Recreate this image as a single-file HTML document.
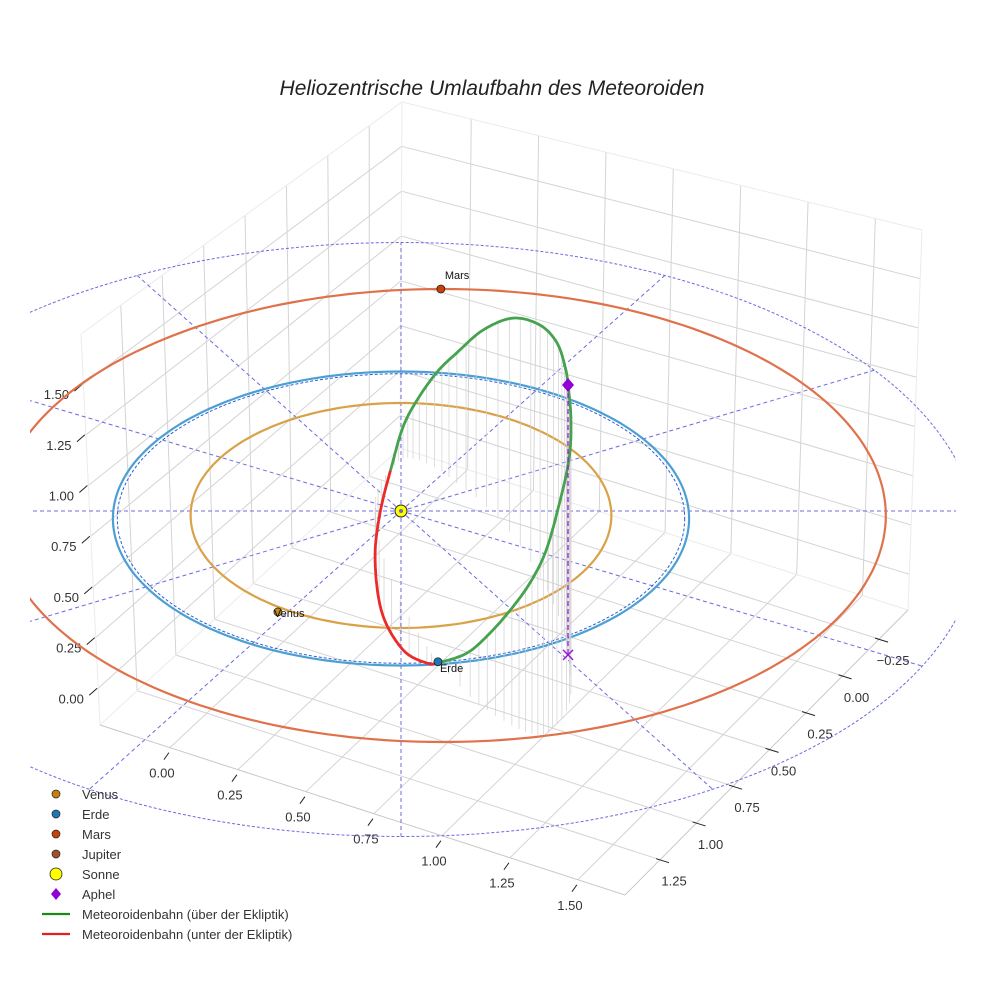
<!DOCTYPE html>
<html><head><meta charset="utf-8"><style>
html,body{margin:0;padding:0;background:#fff;}
svg{display:block;font-family:"Liberation Sans",sans-serif;}
</style></head><body>
<svg id="chart" width="984" height="984" viewBox="0 0 984 984">
<defs><clipPath id="plotclip"><rect x="30" y="0" width="926" height="984"/></clipPath></defs>
<rect width="984" height="984" fill="#fff"/>
<text x="492" y="95" text-anchor="middle" font-size="21" font-style="italic" fill="#222">Heliozentrische Umlaufbahn des Meteoroiden</text>
<g id="box"></g>
<g clip-path="url(#plotclip)"><g id="ecl"></g><g id="orb"></g><g id="met"></g></g>
<g id="mk"></g>
<g id="legend"></g>
</svg>
<script>
// ---- axis data ----
const xTicks=[0,0.25,0.5,0.75,1.0,1.25,1.5];
const xTickLabels=['0.00','0.25','0.50','0.75','1.00','1.25','1.50'];
const yTicks=[-0.25,0,0.25,0.5,0.75,1.0,1.25];
const yTickLabels=['\u22120.25','0.00','0.25','0.50','0.75','1.00','1.25'];
const zTicks=[0,0.25,0.5,0.75,1.0,1.25,1.5];
const zTickLabels=['0.00','0.25','0.50','0.75','1.00','1.25','1.50'];
const xLim=[-0.257,1.673], yLim=[-0.448,1.49], zLim=[-0.181,1.747];
// ---- planet orbit data ----
const orbitNames=['venus-orbit','earth-orbit','mars-orbit'];
const orbitCx=[0,0,0.142];
const orbitCy=[0.03,0.05,0.03];
const orbitA=[0.723,0.99,1.524];
const orbitB=[0.75,0.98,1.51];
const orbitColors=['#d9a148','#4b9fd4','#e0714a'];
// ---- planet positions ----
const planetNames=['Venus','Erde','Mars'];
const planetX=[-0.423,0.127,0.137];
const planetY=[0.673,1.005,-1.48];
const planetColors=['#c98a1c','#1f77b4','#c8400a'];
// ---- meteoroid orbit points (x,y,z) ----
const metX=[0.131,0.227,0.306,0.381,0.443,0.495,0.536,0.577,0.584,0.574,0.564,0.536,0.478,0.385,0.282,0.192,0.124,0.055,0.007,-0.031,-0.072,-0.089,-0.065,0.007,0.089];
const metY=[1.010,1.219,1.339,1.429,1.482,1.487,1.420,1.297,1.139,0.959,0.853,0.675,0.443,0.168,-0.051,-0.186,-0.283,-0.341,-0.350,-0.283,-0.181,-0.021,0.275,0.627,0.901];
const metZ=[0.0,0.215,0.415,0.617,0.791,0.952,1.111,1.292,1.379,1.420,1.432,1.418,1.328,1.148,0.912,0.686,0.508,0.314,0.166,0.019,-0.153,-0.273,-0.320,-0.236,-0.089];
const aphel=[0.574,0.959,1.42];
// ---- ecliptic reference grid ----
const ringCenter=[0,0.19];
const ringRadius=1.98;
const radialAngles=[0,30,60,90,120,150,180,210,240,270,300,330];

const NS='http://www.w3.org/2000/svg';
function mk(tag,attrs,parent){const e=document.createElementNS(NS,tag);for(const k in attrs)e.setAttribute(k,attrs[k]);parent.appendChild(e);return e;}
function proj(x,y,z){return [401+291*x,511+150*y-190*z];}
const C={'000':[400,448],'010':[100,725],'110':[625,895],'100':[908,610],'001':[402,102],'011':[81,334],'101':[922,230],'111':[605,468]};
function lerp(a,b,t){return [a[0]+(b[0]-a[0])*t,a[1]+(b[1]-a[1])*t];}
function boxP(x,y,z){
 const u=(x-xLim[0])/(xLim[1]-xLim[0]),v=(y-yLim[0])/(yLim[1]-yLim[0]),w=(z-zLim[0])/(zLim[1]-zLim[0]);
 const b=lerp(lerp(C['000'],C['100'],u),lerp(C['010'],C['110'],u),v);
 const t=lerp(lerp(C['001'],C['101'],u),lerp(C['011'],C['111'],u),v);
 return lerp(b,t,w);
}
const box=document.getElementById('box');
function bl(p,q,col,w,name){const l=mk('line',{x1:p[0],y1:p[1],x2:q[0],y2:q[1],stroke:col,'stroke-width':w},box);
 
 }
const gc='#d4d4d4';
xTicks.forEach(x=>bl(boxP(x,yLim[0],zLim[0]),boxP(x,yLim[1],zLim[0]),gc,1,'floor-grid-x'));
yTicks.forEach(y=>bl(boxP(xLim[0],y,zLim[0]),boxP(xLim[1],y,zLim[0]),gc,1,'floor-grid-y'));
yTicks.forEach(y=>bl(boxP(xLim[0],y,zLim[0]),boxP(xLim[0],y,zLim[1]),gc,1,'left-wall-grid-y'));
zTicks.forEach(z=>bl(boxP(xLim[0],yLim[0],z),boxP(xLim[0],yLim[1],z),gc,1,'left-wall-grid-z'));
xTicks.forEach(x=>bl(boxP(x,yLim[0],zLim[0]),boxP(x,yLim[0],zLim[1]),gc,1,'right-wall-grid-x'));
zTicks.forEach(z=>bl(boxP(xLim[0],yLim[0],z),boxP(xLim[1],yLim[0],z),gc,1,'right-wall-grid-z'));
const ec='#ebebeb';
[[[0,0,0],[0,0,1]],[[0,1,0],[0,1,1]],[[1,0,0],[1,0,1]],[[0,0,1],[0,1,1]],[[0,0,1],[1,0,1]],[[0,0,0],[0,1,0]],[[0,0,0],[1,0,0]]].forEach(e=>{
 const f=a=>boxP(xLim[a[0]],yLim[a[1]],zLim[a[2]]);bl(f(e[0]),f(e[1]),ec,1,'box-edge');});
bl(boxP(xLim[0],yLim[1],zLim[0]),boxP(xLim[1],yLim[1],zLim[0]),'#c8c8c8',1,'x-axis-line');
bl(boxP(xLim[1],yLim[0],zLim[0]),boxP(xLim[1],yLim[1],zLim[0]),'#c8c8c8',1,'y-axis-line');
function tl(p,dx1,dy1,dx2,dy2,name){const l=mk('line',{x1:p[0]+dx1,y1:p[1]+dy1,x2:p[0]+dx2,y2:p[1]+dy2,stroke:'#222','stroke-width':1},box);
 
 }
function tt(p,s,name){const t=mk('text',{x:p[0],y:p[1],'text-anchor':'middle','font-size':13,fill:'#333'},box);t.textContent=s;
 
 }
xTicks.forEach((x,i)=>{const p=boxP(x,yLim[1],zLim[0]);tl(p,-1,5,-6,12,'x-tick');tt([p[0]-8,p[1]+30],xTickLabels[i],'x-tick-label');});
yTicks.forEach((y,i)=>{const p=boxP(xLim[1],y,zLim[0]);tl(p,-4,-1,9,3,'y-tick');tt([p[0]+14,p[1]+26],yTickLabels[i],'y-tick-label');});
zTicks.forEach((z,i)=>{const p=boxP(xLim[0],yLim[1],z);tl(p,-9,7,-1,0,'z-tick');tt([p[0]-27,p[1]+15],zTickLabels[i],'z-tick-label');});

const ecl=document.getElementById('ecl');
function pathFrom(pts){return pts.map((p,i)=>(i?'L':'M')+p[0].toFixed(1)+' '+p[1].toFixed(1)).join(' ');}
function ellipsePts(cx,cy,a,b){const r=[];for(let k=0;k<=240;k++){const t=k/240*2*Math.PI;r.push(proj(cx+a*Math.cos(t),cy+b*Math.sin(t),0));}return r;}
const ring=mk('path',{d:pathFrom(ellipsePts(ringCenter[0],ringCenter[1],ringRadius,ringRadius)),fill:'none',stroke:'#6b6be0','stroke-width':1,'stroke-dasharray':'3,2'},ecl);


radialAngles.forEach(a=>{const t=a*Math.PI/180;const s=proj(0,0,0);
 const c=Math.cos(t),sn=Math.sin(t);
 const ox=-ringCenter[0],oy=-ringCenter[1];const bq=ox*c+oy*sn,cq=ox*ox+oy*oy-ringRadius*ringRadius;
 const L=-bq+Math.sqrt(bq*bq-cq);
 const e=proj(L*c,L*sn,0);
 const l=mk('line',{x1:s[0],y1:s[1],x2:e[0],y2:e[1],stroke:'#6b6be0','stroke-width':1,'stroke-dasharray':'4,3'},ecl);
 
 });

const orb=document.getElementById('orb');
orbitNames.forEach((n,i)=>{const p=mk('path',{d:pathFrom(ellipsePts(orbitCx[i],orbitCy[i],orbitA[i],orbitB[i])),fill:'none',stroke:orbitColors[i],'stroke-width':2.2},orb);
 
 });
const ed=mk('path',{d:pathFrom(ellipsePts(orbitCx[1],orbitCy[1],orbitA[1]-0.015,orbitB[1]-0.015)),fill:'none',stroke:'#2a5fd0','stroke-width':1,'stroke-dasharray':'3,2'},orb);



const met=document.getElementById('met');
const n=metX.length, samples=[];
for(let i=0;i<n;i++){const i0=(i-1+n)%n,i2=(i+1)%n,i3=(i+2)%n;
 for(let s=0;s<16;s++){const t=s/16,t2=t*t,t3=t2*t;
  const cr=(a)=>0.5*((2*a[i])+(-a[i0]+a[i2])*t+(2*a[i0]-5*a[i]+4*a[i2]-a[i3])*t2+(-a[i0]+3*a[i]-3*a[i2]+a[i3])*t3);
  samples.push([cr(metX),cr(metY),cr(metZ)]);}}
samples.push(samples[0]);
samples.forEach((q,k)=>{if(k%6!==0||Math.abs(q[2])<0.04)return;const a=proj(q[0],q[1],q[2]),b=proj(q[0],q[1],0);
 const l=mk('line',{x1:a[0],y1:a[1],x2:b[0],y2:b[1],stroke:'#d0d0d0','stroke-width':0.7},met);
 
 });
let seg=[],segAbove=null;
function flush(){if(seg.length>1){const p=mk('path',{d:pathFrom(seg),fill:'none',stroke:segAbove?'#45a24e':'#ec2a2a','stroke-width':2.8,'stroke-linejoin':'round'},met);
 
 }}
samples.forEach(q=>{const above=q[2]>=0;const p=proj(q[0],q[1],q[2]);
 if(segAbove===null)segAbove=above;
 if(above!==segAbove){seg.push(p);flush();seg=[p];segAbove=above;}else seg.push(p);});
flush();

const mkg=document.getElementById('mk');
const ap=proj(aphel[0],aphel[1],aphel[2]),ag=proj(aphel[0],aphel[1],0);
const al=mk('line',{x1:ap[0],y1:ap[1],x2:ag[0],y2:ag[1],stroke:'#9a1ad0','stroke-width':1.3,'stroke-dasharray':'5,3'},mkg);


const ax=mk('path',{d:`M${ag[0]-5} ${ag[1]-5}L${ag[0]+5} ${ag[1]+5}M${ag[0]-5} ${ag[1]+5}L${ag[0]+5} ${ag[1]-5}`,stroke:'#9a1ad0','stroke-width':1.5},mkg);


const ad=mk('path',{d:`M${ap[0]} ${ap[1]-7}L${ap[0]+6} ${ap[1]}L${ap[0]} ${ap[1]+7}L${ap[0]-6} ${ap[1]}Z`,fill:'#9400d3'},mkg);


planetNames.forEach((nm,i)=>{const p=proj(planetX[i],planetY[i],0);
 const c=mk('circle',{cx:p[0],cy:p[1],r:4,fill:planetColors[i],stroke:'#222','stroke-width':0.8},mkg);
 
 
 const off=nm==='Mars'?[4,-10]:(nm==='Erde'?[2,10]:[-4,5]);
 const t=mk('text',{x:p[0]+off[0],y:p[1]+off[1],'font-size':11,fill:'#111'},mkg);t.textContent=nm;
 
 });
const sp=proj(0,0,0);
const sun=mk('circle',{cx:sp[0],cy:sp[1],r:6,fill:'#ffff00',stroke:'#222','stroke-width':1},mkg);


const sc=mk('circle',{cx:sp[0],cy:sp[1],r:2,fill:'#6070c0'},mkg);



const lg=document.getElementById('legend');
const legLabels=['Venus','Erde','Mars','Jupiter','Sonne','Aphel','Meteoroidenbahn (über der Ekliptik)','Meteoroidenbahn (unter der Ekliptik)'];
const legKinds=['dot','dot','dot','dot','sun','diamond','line','line'];
const legColors=['#c7800e','#1f77b4','#c8400a','#a0522d','#ffff00','#9400d3','#1a8a1a','#e02020'];
legLabels.forEach((s,i)=>{const y=794+i*20;const g=mk('g',{},lg);
 
 
 const k=legKinds[i];
 if(k==='dot')mk('circle',{cx:56,cy:y,r:4,fill:legColors[i],stroke:'#222','stroke-width':0.7},g);
 else if(k==='sun')mk('circle',{cx:56,cy:y,r:6,fill:legColors[i],stroke:'#222','stroke-width':0.8},g);
 else if(k==='diamond')mk('path',{d:`M56 ${y-6}L61 ${y}L56 ${y+6}L51 ${y}Z`,fill:legColors[i]},g);
 else mk('line',{x1:42,y1:y,x2:70,y2:y,stroke:legColors[i],'stroke-width':2.2},g);
 const t=mk('text',{x:82,y:y+5,'font-size':13,fill:'#333'},g);t.textContent=s;});
</script>
</body></html>
